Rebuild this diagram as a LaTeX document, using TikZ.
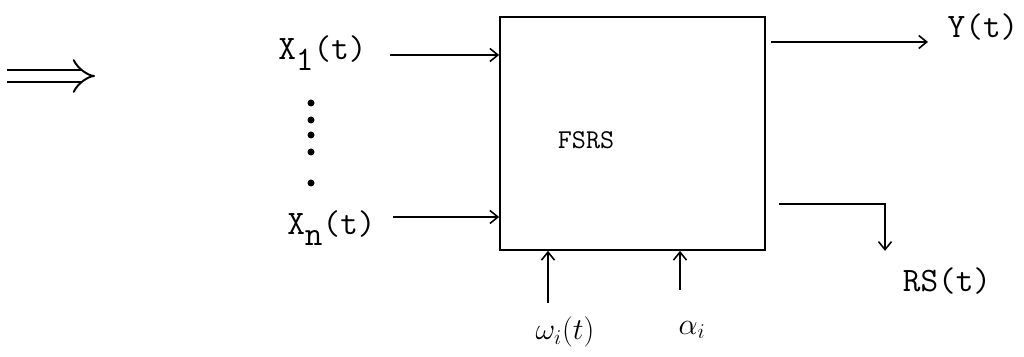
\documentclass[tikz,border=0pt]{standalone}
\usepackage{fontspec}
\usetikzlibrary{arrows.meta,positioning}
\newcommand{\lowered}[1]{\raisebox{-0.7ex}{#1}}

\begin{document}
\begin{tikzpicture}[
  x=0.02cm,y=-0.02cm,
  font=\ttfamily\fontsize{19.5}{22}\selectfont,
  blk/.style={draw,line width=1pt,minimum width=5.3cm,minimum height=4.66cm,inner sep=0pt},
  lbl/.style={inner sep=0pt},
  arr/.style={-{Straight Barb[length=1.6mm,width=2.6mm]},line width=0.9pt},
  dot/.style={circle,fill,inner sep=0pt,minimum size=1.4mm}
]
\useasboundingbox (0,0) rectangle (1024,357);
% block
\node[blk] (fsrs) at (632.5,133.5) {};
\node[font=\ttfamily\fontsize{15.5}{18}\selectfont] (name) at (586,140) {FSRS};
% inputs
\node[lbl,anchor=base west] (x1) at (278,60) {X\lowered{1}(t)};
\node[lbl,anchor=base west] (xn) at (287,235) {X\lowered{n}(t)};
\foreach \y in {103,120,135,152,183}
  \node[dot] (d\y) at (311,\y) {};
\coordinate (x1a) at (390,55);
\coordinate (xna) at (393,217);
\draw[arr] (x1a) -- (x1a -| fsrs.west);
\draw[arr] (xna) -- (xna -| fsrs.west);
% outputs
\node[lbl] (y) at (983,27) {Y(t)};
\coordinate (ytip) at (928,42);
\draw[arr] ([xshift=0.1cm]fsrs.east |- ytip) -- (ytip);
\node[lbl] (rs) at (947,281) {RS(t)};
\coordinate (rsc) at (885,204);
\draw[arr] ([xshift=0.26cm]fsrs.east |- rsc) -- (rsc) -- (rsc |- fsrs.south);
% parameters
\node[lbl,font=\fontsize{18}{20}\selectfont] (w) at (565,332) {$\omega_i(t)$};
\node[lbl,font=\fontsize{18}{20}\selectfont] (al) at (692,330) {$\alpha_i$};
\coordinate (wa) at (548,303);
\coordinate (ala) at (680,290);
\draw[arr] (wa) -- (wa |- fsrs.south);
\draw[arr] (ala) -- (ala |- fsrs.south);
% double arrow
\coordinate (dl) at (7,76);
\coordinate (dr) at (95,76);
\draw[double,double distance=0.2cm,line width=1.1pt,-{Implies[scale=1.6]}] (dl) -- (dr);
\end{tikzpicture}
\end{document}
